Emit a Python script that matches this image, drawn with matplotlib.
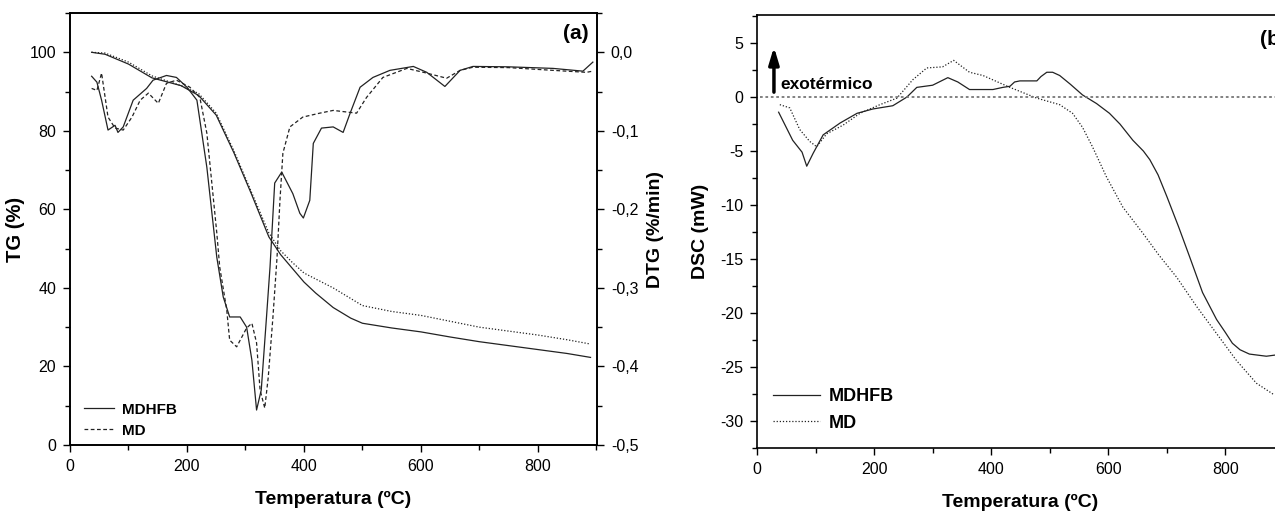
import numpy as np
import matplotlib.pyplot as plt
from matplotlib.ticker import MultipleLocator, FuncFormatter
from matplotlib.lines import Line2D

plt.rcParams['font.family'] = ['Liberation Sans', 'DejaVu Sans']
plt.rcParams['axes.unicode_minus'] = False

# TG curves (%)
tg_temp_a = [37, 60, 100, 140, 190, 220, 250, 280, 310, 340, 360, 380, 400, 420, 450, 480,
             500, 550, 600, 650, 700, 750, 800, 850, 890]
tg_mdhfb = [100, 99.5, 97, 93.5, 91.5, 89, 84, 74.5, 64, 53, 48.5, 45, 41.5, 38.7, 35, 32.3,
            31, 29.8, 28.8, 27.5, 26.3, 25.3, 24.3, 23.3, 22.3]
tg_temp_b = [37, 60, 100, 140, 190, 220, 250, 280, 310, 340, 360, 380, 400, 450, 500, 550,
             600, 650, 700, 750, 800, 850, 890]
tg_md = [100, 99.8, 97.5, 94, 91.5, 89.5, 84.5, 75, 64.5, 54, 49.5, 46.5, 43.8, 40, 35.5, 34,
         33, 31.5, 30, 29, 28, 26.8, 25.7]

# DTG curves (%/min)
dtg_temp_a = [37, 46, 54, 65, 77, 82, 91, 108, 131, 142, 165, 182, 200, 217, 234, 251, 262,
              273, 291, 302, 311, 319, 327, 336, 342, 350, 362, 381, 393, 399, 410, 416, 430,
              450, 467, 479, 496, 518, 547, 587, 610, 641, 667, 689, 750, 826, 877, 894]
dtg_mdhfb = [-0.0305, -0.038, -0.061, -0.099, -0.093, -0.102, -0.095, -0.061, -0.046, -0.0355,
             -0.0295, -0.032, -0.0445, -0.061, -0.1465, -0.261, -0.3115, -0.337, -0.337, -0.35,
             -0.392, -0.4555, -0.43, -0.337, -0.2735, -0.1665, -0.1525, -0.18, -0.205, -0.211,
             -0.1885, -0.116, -0.0965, -0.095, -0.102, -0.0775, -0.0445, -0.032, -0.023, -0.018,
             -0.0255, -0.0435, -0.023, -0.018, -0.0185, -0.0205, -0.024, -0.0125]
dtg_temp_b = [37, 46, 54, 65, 77, 91, 106, 120, 134, 151, 165, 182, 205, 222, 234, 251, 256,
              268, 273, 285, 302, 311, 319, 325, 333, 339, 347, 354, 359, 364, 376, 398, 427,
              450, 490, 507, 535, 576, 610, 644, 667, 689, 750, 826, 883, 894]
dtg_md = [-0.046, -0.0485, -0.0265, -0.0825, -0.0965, -0.099, -0.0825, -0.061, -0.052, -0.065,
          -0.0395, -0.0355, -0.0445, -0.0575, -0.103, -0.23, -0.2735, -0.328, -0.3665, -0.375,
          -0.351, -0.345, -0.37, -0.43, -0.453, -0.4135, -0.337, -0.261, -0.1885, -0.1285,
          -0.095, -0.0825, -0.0775, -0.074, -0.0775, -0.0575, -0.032, -0.0205, -0.0265, -0.033,
          -0.023, -0.019, -0.0195, -0.023, -0.0255, -0.024]

# DSC curves (mW)
dsc_temp_a = [37, 61, 77, 85, 96, 113, 142, 171, 198, 232, 256, 273, 300, 326, 343, 363, 403,
              420, 432, 440, 449, 478, 485, 495, 505, 517, 535, 556, 580, 602, 620, 642, 660,
              671, 685, 700, 720, 739, 761, 785, 800, 812, 825, 841, 870, 884]
dsc_mdhfb = [-1.4, -4.0, -5.1, -6.4, -5.2, -3.5, -2.4, -1.5, -1.1, -0.8, 0.0, 0.9, 1.1, 1.8,
             1.4, 0.7, 0.7, 0.9, 1.0, 1.4, 1.5, 1.5, 1.9, 2.3, 2.3, 2.0, 1.2, 0.2, -0.6, -1.5,
             -2.5, -4.0, -5.0, -5.8, -7.2, -9.2, -12.0, -14.8, -18.1, -20.6, -21.8, -22.8,
             -23.4, -23.8, -24.0, -23.9]
dsc_temp_b = [39, 56, 73, 90, 102, 119, 147, 176, 210, 239, 266, 290, 317, 336, 363, 386, 432,
              478, 517, 539, 556, 573, 597, 625, 659, 686, 717, 751, 785, 819, 853, 884]
dsc_md = [-0.7, -1.0, -3.0, -4.1, -4.6, -3.4, -2.6, -1.5, -0.7, -0.1, 1.6, 2.7, 2.8, 3.4, 2.3,
          2.0, 0.9, -0.1, -0.7, -1.5, -2.8, -4.6, -7.4, -10.2, -12.6, -14.6, -16.7, -19.4,
          -21.9, -24.4, -26.5, -27.6]

line_col = '#222222'
solid = '-'
dash = (0, (3, 2))
dot = (0, (1, 1.5))

fig = plt.figure(figsize=(12.75, 5.13), dpi=100)

# ---------- (a) TG / DTG ----------
ax1 = fig.add_axes([0.0549, 0.1326, 0.4133, 0.842])
ax1b = ax1.twinx()

ax1.plot(tg_temp_a, tg_mdhfb, color=line_col, lw=0.9, ls=solid)
ax1.plot(tg_temp_b, tg_md, color=line_col, lw=0.9, ls=dot)
ax1b.plot(dtg_temp_a, dtg_mdhfb, color=line_col, lw=0.9, ls=solid)
ax1b.plot(dtg_temp_b, dtg_md, color=line_col, lw=0.9, ls=dash)

ax1.set_xlim(0, 901)
ax1.set_ylim(0, 110)
ax1b.set_ylim(-0.5, 0.05)
ax1.xaxis.set_major_locator(MultipleLocator(200))
ax1.xaxis.set_minor_locator(MultipleLocator(100))
ax1.yaxis.set_major_locator(MultipleLocator(20))
ax1.yaxis.set_minor_locator(MultipleLocator(10))
ax1b.yaxis.set_major_locator(MultipleLocator(0.1))
ax1b.yaxis.set_minor_locator(MultipleLocator(0.05))
ax1b.yaxis.set_major_formatter(FuncFormatter(lambda v, p: ('%.1f' % v).replace('.', ',')))

ax1.set_xlabel('Temperatura (ºC)', fontsize=14, fontweight='bold', labelpad=12)
ax1.set_ylabel('TG (%)', fontsize=14.5, fontweight='bold', labelpad=3)
ax1b.set_ylabel('DTG (%/min)', fontsize=14, fontweight='bold', labelpad=6)
ax1.text(0.985, 0.975, '(a)', transform=ax1.transAxes, ha='right', va='top',
         fontsize=15, fontweight='bold')

handles = [Line2D([], [], color=line_col, lw=0.9, ls=solid),
           Line2D([], [], color=line_col, lw=0.9, ls=dash)]
ax1.legend(handles, ['MDHFB', 'MD'], loc='lower left', bbox_to_anchor=(0.0, -0.015),
           frameon=False, handlelength=2.0, handletextpad=0.5, labelspacing=0.45,
           prop={'weight': 'bold', 'size': 11})

# ---------- (b) DSC ----------
ax2 = fig.add_axes([0.5937, 0.1267, 0.4133, 0.844])
ax2.plot(dsc_temp_a, dsc_mdhfb, color=line_col, lw=0.9, ls=solid)
ax2.plot(dsc_temp_b, dsc_md, color=line_col, lw=0.9, ls=dot)
ax2.axhline(0, xmin=0.005, color='#777777', lw=1.3, ls=(0, (1.5, 1.5)))

ax2.set_xlim(0, 900)
ax2.set_ylim(-32.5, 7.6)
ax2.xaxis.set_major_locator(MultipleLocator(200))
ax2.xaxis.set_minor_locator(MultipleLocator(100))
ax2.yaxis.set_major_locator(MultipleLocator(5))
ax2.yaxis.set_minor_locator(MultipleLocator(2.5))
ax2.set_xlabel('Temperatura (ºC)', fontsize=14, fontweight='bold', labelpad=12)
ax2.set_ylabel('DSC (mW)', fontsize=14, fontweight='bold', labelpad=8)
ax2.text(0.955, 0.965, '(b)', transform=ax2.transAxes, ha='left', va='top',
         fontsize=15, fontweight='bold')

ax2.annotate('', xy=(29, 4.9), xytext=(29, 0.2),
             arrowprops=dict(arrowstyle='-|>,head_width=0.3,head_length=1.0',
                             color='black', lw=2.5))
ax2.text(40, 1.2, 'exotérmico', fontsize=12.5, fontweight='bold', va='center', ha='left')

handles2 = [Line2D([], [], color=line_col, lw=0.9, ls=solid),
            Line2D([], [], color=line_col, lw=0.9, ls=dot)]
ax2.legend(handles2, ['MDHFB', 'MD'], loc='lower left', bbox_to_anchor=(0.0, 0.0),
           frameon=False, handlelength=2.6, handletextpad=0.5, labelspacing=0.55,
           prop={'weight': 'bold', 'size': 13})

for a in (ax1, ax1b, ax2):
    a.tick_params(which='both', direction='out', labelsize=11.5, pad=5)
    a.tick_params(which='major', length=5, width=1)
    a.tick_params(which='minor', length=3.5, width=1)
    for s in a.spines.values():
        s.set_linewidth(1.2)
ax1.tick_params(top=False, right=False)
ax2.tick_params(top=False, right=False)

fig.savefig('out.png', dpi=100)
